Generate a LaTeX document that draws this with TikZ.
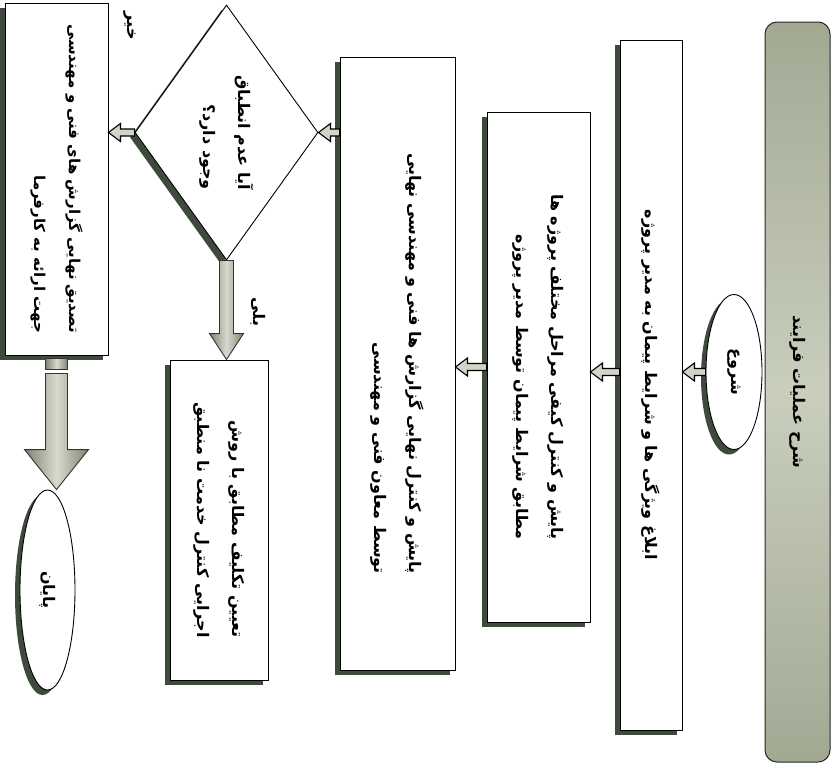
\documentclass[tikz,border=0pt]{standalone}
\usepackage{fontspec}
\newfontfamily\fa[Script=Arabic]{DejaVu Sans}
\TeXXeTstate=1
\usetikzlibrary{shapes.geometric,shadows,calc}
\definecolor{shadowc}{HTML}{3E4A3C}
\definecolor{barmid}{HTML}{C9CEBD}
\definecolor{bardark}{HTML}{A2A993}
\definecolor{arrfill}{HTML}{D2D4C8}
\definecolor{fatdark}{HTML}{7E8470}
\definecolor{fatlight}{HTML}{D8DACE}
\newcommand\R[1]{\hbox{\beginR #1\endR}}
\newcommand\larrow[5]{\draw[#5] let \p1=(#1), \p2=(#2) in
  (\x1,\y1-#3) -- (\x2+#4,\y1-#3) -- (\x2+#4,\y1-9pt) -- (\x2,\y1) -- (\x2+#4,\y1+9pt) -- (\x2+#4,\y1+#3) -- (\x1,\y1+#3) -- cycle;}
\newcommand\darrow[6]{\draw[#6] let \p1=(#1), \p2=(#2) in
  (\x1-#3,\y1) -- (\x1-#3,\y2+#5) -- (\x1-#4,\y2+#5) -- (\x1,\y2) -- (\x1+#4,\y2+#5) -- (\x1+#3,\y2+#5) -- (\x1+#3,\y1) -- cycle;}
\begin{document}
\begin{tikzpicture}[x=1pt,y=1pt,
  smallarr/.style={draw=black, line width=1.1pt, fill=arrfill, line join=miter},
  fatarr/.style={draw=black!80, line width=0.9pt, left color=fatdark, right color=fatdark, middle color=fatlight}]
\useasboundingbox (0,0) rectangle (837,-769);
\begin{scope}[rotate=-90, transform shape, font=\fa\bfseries\fontsize{16}{35}\selectfont,
  shad/.style={drop shadow={shadow xshift=-5pt, shadow yshift=-5pt, fill=shadowc, opacity=1}},
  box/.style={draw, line width=0.9pt, fill=white, rectangle, align=right, inner sep=0pt, shad},
  oval/.style={draw, line width=0.9pt, fill=white, ellipse, inner sep=0pt, shad},
  dec/.style={draw, line width=0.9pt, fill=white, diamond, align=right, inner sep=0pt, shad},
  lab/.style={inner sep=0pt}]
\node[draw=black!85, line width=1pt, rounded corners=12pt, minimum width=740, minimum height=65,
  top color=bardark, bottom color=bardark, middle color=barmid] (hdr) at (392,797.5) {\R{شرح عملیات فرایند}};
\node[oval, minimum width=155, minimum height=56] (st) at (372,734) {\R{شروع}};
\node[box, minimum width=690, minimum height=62] (b1) at (385,651) {\R{ابلاغ ویژگی ها و شرایط پیمان به مدیر پروژه}};
\node[box, minimum width=510, minimum height=103] (b2) at (367,538.5) {\R{پایش و کنترل کیفی مراحل مختلف پروژه ها}\\\R{مطابق شرایط پیمان توسط مدیر پروژه}};
\node[box, minimum width=613, minimum height=115] (b3) at (363.5,397.5) {\R{پایش و کنترل نهایی گزارش ها فنی و مهندسی نهایی}\\\R{توسط معاون فنی و مهندسی}};
\node[dec, minimum width=255, minimum height=183] (dia) at (132.5,226.5) {\R{آیا عدم انطباق}\\\R{وجود دارد؟}};
\node[box, minimum width=352, minimum height=103, font=\fa\bfseries\fontsize{15}{35}\selectfont] (b5) at (179,56.5) {\R{تصدیق نهایی گزارش های فنی و مهندسی}\\\R{جهت ارائه به کارفرما}};
\node[box, minimum width=320, minimum height=98] (b4) at (520,219) {\R{تعیین تکلیف مطابق با روش}\\\R{اجرایی کنترل خدمت نا منطبق}};
\node[oval, minimum width=200, minimum height=55] (en) at (590,47.5) {\R{پایان}};
\node[lab] (no) at (26,130) {\R{خیر}};
\node[lab] (yes) at (312,258) {\R{بلی}};
\end{scope}
\larrow{st.south}{b1.north}{3.5pt}{12pt}{smallarr}
\larrow{b1.south |- st.center}{b2.north |- st.center}{3.5pt}{12pt}{smallarr}
\larrow{b2.south}{b3.north |- b2.south}{3.5pt}{12pt}{smallarr}
\larrow{b3.south |- dia.north}{dia.north}{3.5pt}{12pt}{smallarr}
\larrow{dia.south}{b5.north |- dia.south}{3.5pt}{12pt}{smallarr}
\darrow{dia.east}{dia.east |- b4.west}{7pt}{17pt}{26pt}{fatarr}
\draw[fatarr] let \p1=(b5.east) in (\x1-11pt,\y1-3pt) rectangle (\x1+11pt,\y1-14pt);
\darrow{$(b5.east)+(0,-18pt)$}{b5.east |- en.west}{11pt}{32pt}{40pt}{fatarr}
\end{tikzpicture}
\end{document}
